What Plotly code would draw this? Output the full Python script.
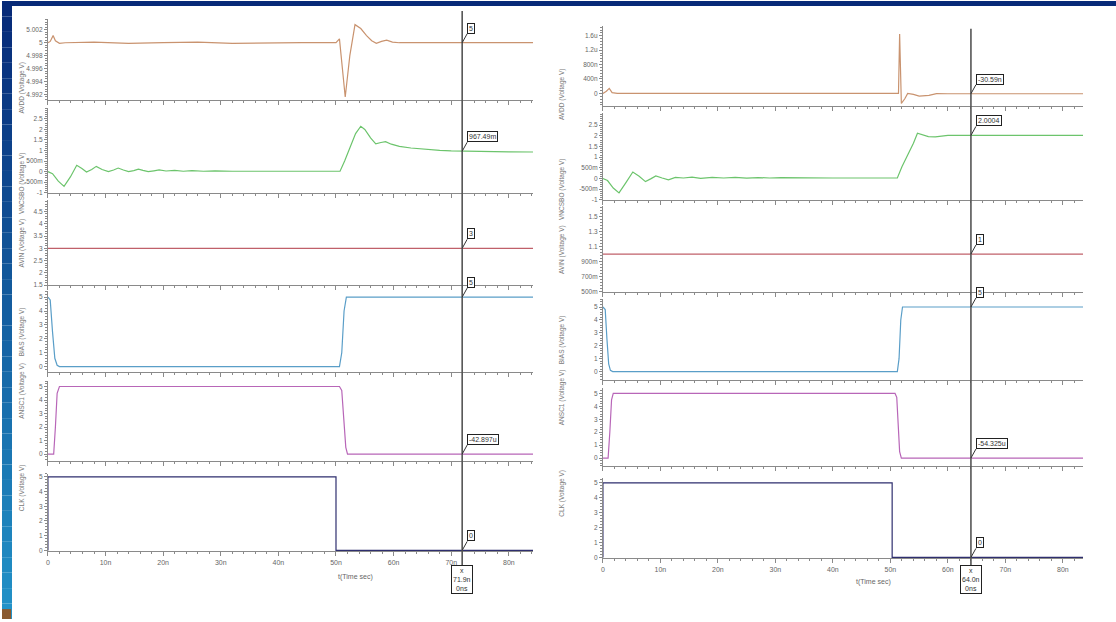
import plotly.graph_objects as go

W, H = 1116, 622

# ---------------- data (time in ns) ----------------
# Left panel
L_AVDD_T = [0, 0.4, 0.9, 1.3, 2.0, 3, 8, 14, 20, 26, 32, 38, 44, 50, 50.6, 51.0, 51.6, 52.4, 53.3,
            54.3, 55.3, 56.2, 57.0, 57.9, 58.8, 59.8, 61, 70, 84.2]
L_AVDD_V = [5.0, 5.0002, 5.0011, 5.0003, 4.9999, 5.0, 5.0001, 4.9999, 5.0, 5.0001, 4.9999, 5.0, 5.0,
            5.0, 5.0006, 4.997, 4.9916, 4.998, 5.0028, 5.0022, 5.0011, 5.0003, 4.9999, 5.0002, 5.0004,
            5.0001, 5.0, 5.0, 5.0]
L_OUT_T = [0, 0.8, 1.8, 2.8, 3.9, 5.0, 5.9, 6.7, 7.6, 8.4, 9.4, 10.5, 11.4, 12.2, 13.1, 14.0, 14.9,
           15.7, 16.5, 17.4, 18.4, 19.3, 20.5, 22, 23.5, 25, 27, 29, 32, 40, 50.7, 51.5, 52.5, 53.4,
           54.3, 55.0, 56.0, 56.9, 57.8, 58.6, 59.6, 61.0, 63.0, 65.7, 68, 70, 72, 76, 80, 84.2]
L_OUT_V = [0, -0.1, -0.45, -0.7, -0.25, 0.3, 0.15, -0.02, 0.1, 0.25, 0.1, 0.0, 0.08, 0.17, 0.08,
           0.0, 0.05, 0.12, 0.06, 0.0, 0.04, 0.08, 0.03, 0.06, 0.02, 0.05, 0.02, 0.04, 0.02, 0.02,
           0.02, 0.5, 1.2, 1.8, 2.15, 2.0, 1.6, 1.32, 1.38, 1.42, 1.3, 1.2, 1.12, 1.05, 1.01, 0.98,
           0.967, 0.955, 0.94, 0.93]
L_AVIN_T = [0, 84.2]
L_AVIN_V = [3.0, 3.0]
L_BIAS_T = [0, 0.4, 0.8, 1.2, 1.6, 2.0, 50.6, 51.0, 51.4, 51.8, 84.2]
L_BIAS_V = [5.0, 4.8, 2.5, 0.6, 0.1, 0.0, 0.0, 1.0, 4.0, 5.0, 5.0]
L_ANSC_T = [0, 1.0, 1.3, 1.6, 2.0, 50.6, 51.0, 51.3, 51.7, 52.0, 84.2]
L_ANSC_V = [0.0, 0.0, 2.0, 4.5, 5.0, 5.0, 4.7, 3.0, 0.5, 0.0, 0.0]
L_CLK_T = [0, 0, 50, 50, 84.2]
L_CLK_V = [0, 5, 5, 0, 0]
L_CURSOR_T = 71.9
L_CURSOR_V = [5.0, 0.967, 3.0, 5.0, 0.0, 0.0]
L_CURSOR_TXT = ["5", "967.49m", "3", "5", "-42.897u", "0"]
L_CURSOR_BOX = "x<br>71.9n<br>0ns"

# Right panel (AVDD deviation in nV)
R_AVDD_T = [0, 0.6, 1.1, 1.6, 2.5, 10, 20, 30, 40, 51.0, 51.4, 51.6, 51.75, 51.9, 52.5, 53.0, 54.0,
            55.0, 56.7, 58.0, 60, 70, 83.5]
R_AVDD_V = [0, 60, 140, 20, 0, 0, 0, 0, 0, 0, 0, 1650, 400, -280, -150, 0, -28, -75, -55, -8, -10,
            -10, -10]
R_OUT_T = [0, 0.8, 1.8, 2.8, 4.0, 5.2, 6.3, 7.4, 8.3, 9.2, 10.3, 11.4, 12.6, 14, 15.5, 17, 19, 21,
           23, 25, 27, 29, 31, 35, 40, 45, 51.2, 52.0, 53.0, 54.0, 54.7, 55.7, 56.6, 57.8, 59.0, 60,
           64, 70, 83.5]
R_OUT_V = [0, -0.1, -0.45, -0.68, -0.2, 0.3, 0.1, -0.15, -0.02, 0.12, 0.02, -0.07, 0.05, 0.02, 0.06,
           0.0, 0.05, 0.02, 0.05, 0.01, 0.04, 0.02, 0.04, 0.02, 0.02, 0.02, 0.02, 0.55, 1.1, 1.65,
           2.12, 2.05, 1.96, 1.95, 2.0, 2.02, 2.02, 2.02, 2.02]
R_AVIN_T = [0, 83.5]
R_AVIN_V = [1.0, 1.0]
R_BIAS_T = [0, 0.4, 0.7, 1.0, 1.3, 1.7, 51.2, 51.5, 51.8, 52.1, 83.5]
R_BIAS_V = [5.0, 4.8, 2.5, 0.6, 0.1, 0.0, 0.0, 1.0, 4.0, 5.0, 5.0]
R_ANSC_T = [0, 0.9, 1.2, 1.5, 1.8, 50.8, 51.1, 51.3, 51.6, 51.9, 83.5]
R_ANSC_V = [0.0, 0.0, 2.0, 4.5, 5.0, 5.0, 4.7, 3.0, 0.5, 0.0, 0.0]
R_CLK_T = [0, 0, 50.3, 50.3, 83.5]
R_CLK_V = [0, 5, 5, 0, 0]
R_CURSOR_T = 64.0
R_CURSOR_V = [-10, 2.02, 1.0, 5.0, 0.0, 0.0]
R_CURSOR_TXT = ["-30.59n", "2.0004", "1", "5", "-54.325u", "0"]
R_CURSOR_BOX = "x<br>64.0n<br>0ns"

Y_TITLES = ["AVDD (Voltage V)", "VNCSBO (Voltage V)", "AVIN (Voltage V)",
            "BIAS (Voltage V)", "ANSC1 (Voltage V)", "CLK (Voltage V)"]

TIME_TICKS = [0, 10, 20, 30, 40, 50, 60, 70, 80]
TIME_TICK_TEXT = ["0", "10n", "20n", "30n", "40n", "50n", "60n", "70n", "80n"]
X_TITLE = "t(Time sec)"

L_YTICKS = [
    ([4.992, 4.994, 4.996, 4.998, 5.0, 5.002], ["4.992", "4.994", "4.996", "4.998", "5", "5.002"]),
    ([-1, -0.5, 0, 0.5, 1, 1.5, 2, 2.5], ["-1", "-500m", "0", "500m", "1", "1.5", "2", "2.5"]),
    ([1.5, 2, 2.5, 3, 3.5, 4, 4.5], ["1.5", "2", "2.5", "3", "3.5", "4", "4.5"]),
    ([0, 1, 2, 3, 4, 5], ["0", "1", "2", "3", "4", "5"]),
    ([0, 1, 2, 3, 4, 5], ["0", "1", "2", "3", "4", "5"]),
    ([0, 1, 2, 3, 4, 5], ["0", "1", "2", "3", "4", "5"]),
]
R_YTICKS = [
    ([-400, 0, 400, 800, 1200, 1600], ["-400n", "0", "400n", "800n", "1.2u", "1.6u"]),
    ([-1, -0.5, 0, 0.5, 1, 1.5, 2, 2.5], ["-1", "-500m", "0", "500m", "1", "1.5", "2", "2.5"]),
    ([0.5, 0.7, 0.9, 1.1, 1.3, 1.5], ["500m", "700m", "900m", "1.1", "1.3", "1.5"]),
    ([0, 1, 2, 3, 4, 5], ["0", "1", "2", "3", "4", "5"]),
    ([0, 1, 2, 3, 4, 5], ["0", "1", "2", "3", "4", "5"]),
    ([0, 1, 2, 3, 4, 5], ["0", "1", "2", "3", "4", "5"]),
]

# ---------------- styling / layout ----------------
COLORS = ["#c9936f", "#6cc46c", "#c0606a", "#5a9ec8", "#b866b8", "#2e2e6e"]
FONT = "Liberation Sans"
TICKC = "#666666"
AXC = "#8a8a8a"

def fx(px):
    return px / W

def fy(py):
    return 1 - py / H

panels = [
    dict(x0=46, x1=532, xr=[0, 84.2],
         rows=[(18, 100), (108, 193), (200, 286), (292, 373), (382, 463), (476, 554)],
         yr=[[4.99108, 5.00369], [-1.0, 3.0], [1.5, 4.98], [-0.357, 5.43], [-0.515, 5.44], [-0.07, 5.2]],
         ydt=[0.0004, 0.1, 0.1, 0.2, 0.2, 0.2],
         yticks=L_YTICKS,
         series=[(L_AVDD_T, L_AVDD_V), (L_OUT_T, L_OUT_V), (L_AVIN_T, L_AVIN_V),
                 (L_BIAS_T, L_BIAS_V), (L_ANSC_T, L_ANSC_V), (L_CLK_T, L_CLK_V)],
         ct=L_CURSOR_T, cv=L_CURSOR_V, ctxt=L_CURSOR_TXT, cbox=L_CURSOR_BOX,
         ytitle_x=14, xtitle=(335, 586), ctop=10),
    dict(x0=602, x1=1083, xr=[0, 83.5],
         rows=[(25, 106), (113, 200), (206, 293), (300, 381), (390, 468), (480, 561)],
         yr=[[-359, 1876], [-1.0, 3.06], [0.496, 1.64], [-0.615, 5.615], [-0.615, 5.385], [-0.067, 5.33]],
         ydt=[80, 0.1, 0.04, 0.2, 0.2, 0.2],
         yticks=R_YTICKS,
         series=[(R_AVDD_T, R_AVDD_V), (R_OUT_T, R_OUT_V), (R_AVIN_T, R_AVIN_V),
                 (R_BIAS_T, R_BIAS_V), (R_ANSC_T, R_ANSC_V), (R_CLK_T, R_CLK_V)],
         ct=R_CURSOR_T, cv=R_CURSOR_V, ctxt=R_CURSOR_TXT, cbox=R_CURSOR_BOX,
         ytitle_x=561, xtitle=(893, 591), ctop=28),
]

fig = go.Figure()
layout = dict(width=W, height=H, margin=dict(l=0, r=0, t=0, b=0, pad=0),
              paper_bgcolor="white", plot_bgcolor="white", showlegend=False,
              font=dict(family=FONT, size=7, color=TICKC))
shapes = []
annotations = []

k = 0
for p in panels:
    for i in range(6):
        k += 1
        sfx = "" if k == 1 else str(k)
        top, bot = p["rows"][i]
        t, v = p["series"][i]
        fig.add_trace(go.Scatter(x=t, y=v, mode="lines", xaxis="x" + sfx, yaxis="y" + sfx,
                                 line=dict(color=COLORS[i], width=1.2), hoverinfo="skip"))
        last = (i == 5)
        layout["xaxis" + sfx] = dict(
            domain=[fx(p["x0"]), fx(p["x1"])], range=p["xr"], anchor="y" + sfx,
            showgrid=False, zeroline=False, showline=True, linecolor=AXC, linewidth=1,
            ticks="outside", ticklen=4, tickcolor=AXC, tickmode="array",
            tickvals=TIME_TICKS, ticktext=TIME_TICK_TEXT, showticklabels=last,
            tickfont=dict(size=7, color=TICKC),
            minor=dict(tickmode="linear", tick0=0, dtick=2, ticks="outside", ticklen=2, tickcolor=AXC))
        tv, tt = p["yticks"][i]
        layout["yaxis" + sfx] = dict(
            domain=[fy(bot), fy(top)], range=p["yr"][i], anchor="x" + sfx,
            showgrid=False, zeroline=False, showline=True, linecolor=AXC, linewidth=1,
            ticks="outside", ticklen=3, tickcolor=AXC, tickmode="array",
            tickvals=tv, ticktext=tt, tickfont=dict(size=6.5, color=TICKC),
            minor=dict(tickmode="linear", tick0=tv[0], dtick=p["ydt"][i], ticks="outside",
                       ticklen=2, tickcolor=AXC))
        # y-axis title
        annotations.append(dict(text=Y_TITLES[i], xref="paper", yref="paper",
                                x=fx(p["ytitle_x"]), y=fy((top + bot) / 2), textangle=-90,
                                showarrow=False, font=dict(size=6.5, color="#777777", family=FONT)))
        # cursor readout
        annotations.append(dict(text=p["ctxt"][i], xref="x" + sfx, yref="y" + sfx,
                                x=p["ct"], y=p["cv"][i], showarrow=True, arrowhead=0,
                                arrowwidth=1, arrowcolor="#333333", ax=5, ay=-9,
                                xanchor="left", yanchor="bottom",
                                bordercolor="#222222", borderwidth=1, borderpad=1,
                                bgcolor="white", font=dict(size=7, color="#333333", family=FONT)))
    # cursor vertical line
    sfx6 = str(k)
    shapes.append(dict(type="line", xref="x" + sfx6, yref="paper", x0=p["ct"], x1=p["ct"],
                       y0=fy(570), y1=fy(p["ctop"]), line=dict(color="#555555", width=1.6)))
    # cursor bottom box
    annotations.append(dict(text=p["cbox"], xref="x" + sfx6, yref="paper", x=p["ct"], y=fy(568),
                            xanchor="center", yanchor="top", showarrow=False, align="center",
                            bordercolor="#222222", borderwidth=1, borderpad=1, bgcolor="white",
                            font=dict(size=7, color="#333333", family=FONT)))
    # x axis title
    annotations.append(dict(text=X_TITLE, xref="paper", yref="paper", x=fx(p["xtitle"][0]),
                            y=fy(p["xtitle"][1]), showarrow=False,
                            font=dict(size=7, color="#666666", family=FONT)))

# slide frame: top band and left gradient strip
shapes.append(dict(type="rect", xref="paper", yref="paper", x0=0, x1=1, y0=fy(5), y1=1,
                   fillcolor="#072a78", line=dict(width=0), layer="above"))
n = 40
c0 = (0x07, 0x2a, 0x78)
c1 = (0x22, 0x92, 0xc8)
for j in range(n):
    f = j / (n - 1)
    col = "rgb(%d,%d,%d)" % tuple(int(c0[m] + (c1[m] - c0[m]) * f) for m in range(3))
    shapes.append(dict(type="rect", xref="paper", yref="paper", x0=0, x1=fx(10),
                       y0=fy(H * (j + 1) / n), y1=fy(H * j / n),
                       fillcolor=col, line=dict(width=0), layer="above"))
shapes.append(dict(type="rect", xref="paper", yref="paper", x0=0, x1=fx(9), y0=0, y1=fy(612),
                   fillcolor="#8a5a30", line=dict(width=0), layer="above"))

layout["shapes"] = shapes
layout["annotations"] = annotations
fig.update_layout(**layout)
fig.write_html("out.html", config={"displayModeBar": False},
               post_script="document.body.style.margin='0px';document.body.style.overflow='hidden';")
